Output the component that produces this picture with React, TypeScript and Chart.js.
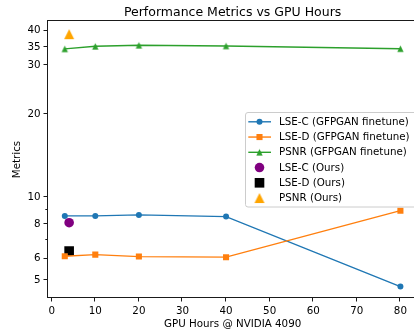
import React, { useEffect, useRef } from 'react';
import { Chart, registerables } from 'chart.js';

Chart.register(...registerables);

const gpuHours = [3, 10, 20, 40, 80];
const lseC = [8.56, 8.56, 8.63, 8.51, 4.75];
const lseD = [6.12, 6.2, 6.1, 6.07, 8.94];
const psnr = [34.4, 35.15, 35.45, 35.25, 34.45];
const oursHours = [4];
const oursLseC = [8.09];
const oursLseD = [6.39];
const oursPsnr = [38.9];
const xTicks = [0, 10, 20, 30, 40, 50, 60, 70, 80];
const yMajorTicks = [5, 6, 8, 10, 20, 30, 35, 40];
const yMinorTicks = [7, 9];
const seriesLabels = [
  'LSE-C (GFPGAN finetune)',
  'LSE-D (GFPGAN finetune)',
  'PSNR (GFPGAN finetune)',
  'LSE-C (Ours)',
  'LSE-D (Ours)',
  'PSNR (Ours)',
];
const titleText = 'Performance Metrics vs GPU Hours';
const xLabel = 'GPU Hours @ NVIDIA 4090';
const yLabel = 'Metrics';

const FONT = "'DejaVu Sans', sans-serif";
const FS = 10.3;

function triangleImage(size: number, color: string) {
  const s = Math.ceil(size) + 2;
  const c = document.createElement('canvas');
  c.width = s;
  c.height = s;
  const ctx = c.getContext('2d')!;
  const cx = s / 2;
  const cy = s / 2;
  const h = size / 2;
  ctx.fillStyle = color;
  ctx.beginPath();
  ctx.moveTo(cx, cy - h);
  ctx.lineTo(cx - h, cy + h);
  ctx.lineTo(cx + h, cy + h);
  ctx.closePath();
  ctx.fill();
  return c;
}

function pts(xs: number[], ys: number[]) {
  return xs.map((x, i) => ({ x, y: ys[i] }));
}

export default function App() {
  const ref = useRef<HTMLCanvasElement>(null);

  useEffect(() => {
    const canvas = ref.current!;
    const triGreen = triangleImage(6.4, '#2ca02c');
    const triOrange = triangleImage(10, '#ffa500');

    const mplPlugin = {
      id: 'mplframe',
      afterDatasetsDraw(chart: any) {
        const ctx = chart.ctx as CanvasRenderingContext2D;
        const { left, right, top, bottom } = chart.chartArea;
        const xs = chart.scales.x;
        const ys = chart.scales.y;
        ctx.save();
        ctx.strokeStyle = '#1a1a1a';
        ctx.lineWidth = 1;
        const L = Math.round(left) - 0.5;
        const R = Math.round(right) - 0.5;
        const T = Math.round(top) - 0.5;
        const B = Math.round(bottom) - 0.5;
        ctx.strokeRect(L, T, R - L, B - T);
        ctx.beginPath();
        xTicks.forEach((v) => {
          const px = Math.round(xs.getPixelForValue(v)) - 0.5;
          ctx.moveTo(px, B);
          ctx.lineTo(px, B + 4);
        });
        yMajorTicks.forEach((v) => {
          const py = Math.round(ys.getPixelForValue(v)) - 0.5;
          ctx.moveTo(L, py);
          ctx.lineTo(L - 4, py);
        });
        yMinorTicks.forEach((v) => {
          const py = Math.round(ys.getPixelForValue(v)) - 0.5;
          ctx.moveTo(L, py);
          ctx.lineTo(L - 2.2, py);
        });
        ctx.stroke();
        ctx.restore();
      },
      afterDraw(chart: any) {
        const ctx = chart.ctx as CanvasRenderingContext2D;
        const { left, right, top, bottom } = chart.chartArea;
        ctx.save();
        // title
        ctx.fillStyle = '#000';
        ctx.font = `12.5px ${FONT}`;
        ctx.textAlign = 'center';
        ctx.textBaseline = 'alphabetic';
        ctx.fillText(titleText, (left + right) / 2, 16);
        // axis labels
        ctx.font = `${FS}px ${FONT}`;
        ctx.textBaseline = 'middle';
        ctx.fillText(xLabel, (left + right) / 2, 324);
        ctx.save();
        ctx.translate(17, (top + bottom) / 2);
        ctx.rotate(-Math.PI / 2);
        ctx.fillText(yLabel, 0, 0);
        ctx.restore();

        // legend
        const bx = 245.5;
        const by = 112.5;
        const bw = 180;
        const bh = 94.5;
        const r = 2.5;
        ctx.beginPath();
        ctx.moveTo(bx + r, by);
        ctx.lineTo(bx + bw - r, by);
        ctx.arcTo(bx + bw, by, bx + bw, by + r, r);
        ctx.lineTo(bx + bw, by + bh - r);
        ctx.arcTo(bx + bw, by + bh, bx + bw - r, by + bh, r);
        ctx.lineTo(bx + r, by + bh);
        ctx.arcTo(bx, by + bh, bx, by + bh - r, r);
        ctx.lineTo(bx, by + r);
        ctx.arcTo(bx, by, bx + r, by, r);
        ctx.closePath();
        ctx.fillStyle = 'rgba(255,255,255,0.8)';
        ctx.fill();
        ctx.strokeStyle = '#cccccc';
        ctx.lineWidth = 1;
        ctx.stroke();

        const datasets = chart.data.datasets;
        ctx.font = `${FS}px ${FONT}`;
        ctx.textAlign = 'left';
        ctx.textBaseline = 'middle';
        datasets.forEach((ds: any, i: number) => {
          const y = 121.8 + i * 15.25;
          const mx = 259.5;
          if (ds.showLine !== false) {
            ctx.strokeStyle = ds.borderColor;
            ctx.lineWidth = ds.borderWidth;
            ctx.beginPath();
            ctx.moveTo(248.3, y);
            ctx.lineTo(271, y);
            ctx.stroke();
          }
          const ps = ds.pointStyle;
          ctx.fillStyle = ds.pointBackgroundColor;
          const rad = ds.pointRadius;
          if (typeof ps !== 'string') {
            ctx.drawImage(ps, mx - ps.width / 2, y - ps.height / 2);
          } else if (ps === 'rect') {
            const s = rad * Math.SQRT1_2;
            ctx.fillRect(mx - s, y - s, 2 * s, 2 * s);
          } else {
            ctx.beginPath();
            ctx.arc(mx, y, rad, 0, Math.PI * 2);
            ctx.fill();
          }
          ctx.fillStyle = '#000';
          ctx.fillText(ds.label, 279, y + 0.5);
        });
        ctx.restore();
      },
    };

    const lineDs = (label: string, ys: number[], color: string, style: any, radius: number, order: number) => ({
      label,
      data: pts(gpuHours, ys),
      borderColor: color,
      backgroundColor: color,
      pointBackgroundColor: color,
      pointBorderColor: color,
      borderWidth: 1.4,
      pointBorderWidth: 0,
      pointStyle: style,
      pointRadius: radius,
      pointHoverRadius: radius,
      showLine: true,
      tension: 0,
      order,
    });
    const scatterDs = (label: string, ys: number[], color: string, style: any, radius: number, order: number) => ({
      label,
      data: pts(oursHours, ys),
      borderColor: color,
      backgroundColor: color,
      pointBackgroundColor: color,
      pointBorderColor: color,
      borderWidth: 0,
      pointBorderWidth: 0,
      pointStyle: style,
      pointRadius: radius,
      pointHoverRadius: radius,
      showLine: false,
      order,
    });

    const chart = new Chart(canvas, {
      type: 'line',
      data: {
        datasets: [
          lineDs(seriesLabels[0], lseC, '#1f77b4', 'circle', 3, 3),
          lineDs(seriesLabels[1], lseD, '#ff7f0e', 'rect', 4.3, 2),
          lineDs(seriesLabels[2], psnr, '#2ca02c', triGreen, 3, 1),
          scatterDs(seriesLabels[3], oursLseC, '#800080', 'circle', 4.8, 6),
          scatterDs(seriesLabels[4], oursLseD, '#000000', 'rect', 6.8, 5),
          scatterDs(seriesLabels[5], oursPsnr, '#ffa500', triOrange, 5, 4),
        ] as any,
      },
      options: {
        animation: false,
        responsive: false,
        devicePixelRatio: 1,
        layout: { padding: { left: 0, right: 4, top: 21, bottom: 0 } },
        plugins: {
          legend: { display: false },
          title: { display: false },
          tooltip: { enabled: false },
        },
        scales: {
          x: {
            type: 'linear',
            min: -0.85,
            max: 83.85,
            afterBuildTicks: (s: any) => {
              s.ticks = xTicks.map((v) => ({ value: v }));
            },
            afterFit: (s: any) => {
              s.height = 31;
            },
            grid: { display: false, drawTicks: false },
            border: { display: false },
            ticks: {
              font: { family: FONT, size: FS },
              color: '#000',
              padding: 7.5,
              maxRotation: 0,
              autoSkip: false,
            },
          },
          y: {
            type: 'logarithmic',
            min: 4.32,
            max: 43.4,
            afterBuildTicks: (s: any) => {
              s.ticks = [...yMajorTicks, ...yMinorTicks]
                .sort((a, b) => a - b)
                .map((v) => ({ value: v }));
            },
            afterFit: (s: any) => {
              s.width = 48;
            },
            grid: { display: false, drawTicks: false },
            border: { display: false },
            ticks: {
              font: { family: FONT, size: FS },
              color: '#000',
              padding: 7.5,
              autoSkip: false,
              callback: (v: any) => (yMajorTicks.includes(Number(v)) ? String(v) : ''),
            },
          },
        },
      } as any,
      plugins: [mplPlugin],
    });
    return () => chart.destroy();
  }, []);

  return (
    <div
      style={{
        position: 'fixed',
        left: 0,
        top: 0,
        width: 414,
        height: 329,
        overflow: 'hidden',
        background: '#fff',
      }}
    >
      <canvas ref={ref} width={424} height={329} style={{ display: 'block' }} />
    </div>
  );
}
